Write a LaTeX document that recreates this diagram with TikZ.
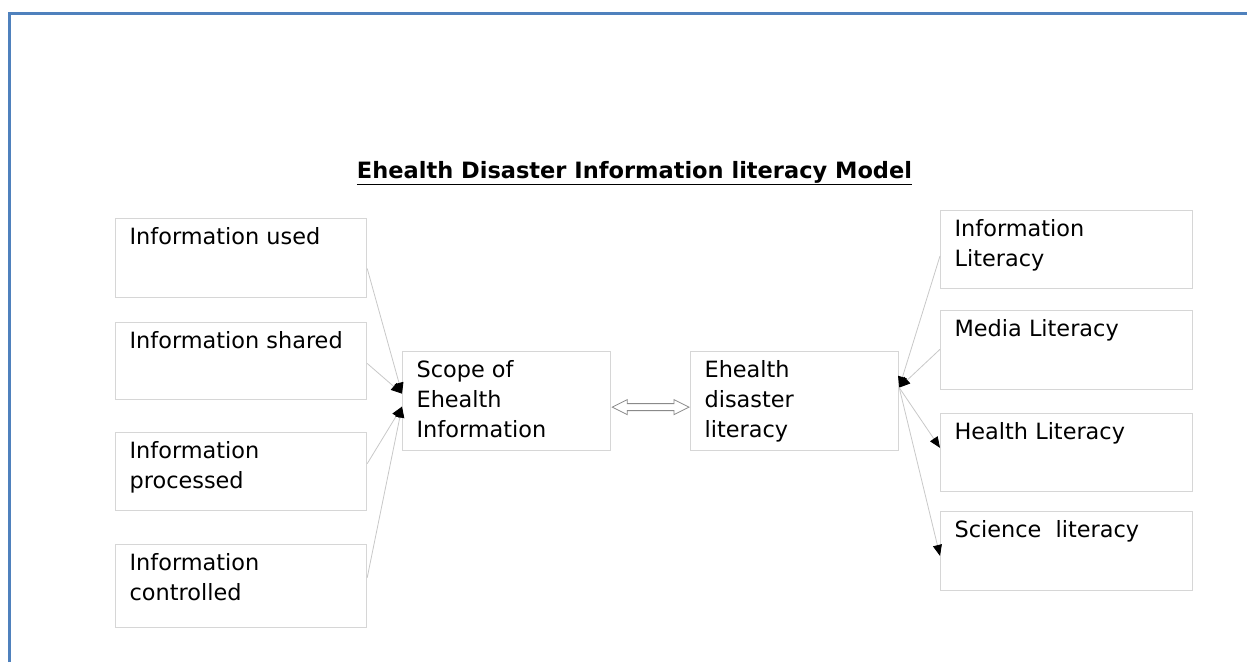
\documentclass[tikz,border=0pt]{standalone}
\usepackage{fontspec}
\setmainfont{DejaVu Sans}
\usetikzlibrary{arrows.meta,calc}
\definecolor{frameblue}{HTML}{4F81BD}
\definecolor{boxgray}{HTML}{D6D6D6}
\definecolor{linegray}{HTML}{C8C8C8}
\definecolor{arrowgray}{HTML}{8A8A8A}
\newcommand{\bxt}[3]{\parbox[c][#1pt][t]{#2pt}{\raggedright\vspace*{9pt}\rule{0pt}{16.7pt}#3}}
\begin{document}
\begin{tikzpicture}[x=1pt,y=-1pt,
  box/.style={draw=boxgray, line width=1.2pt, anchor=north west,
    inner xsep=14pt, inner ysep=0pt,
    font=\fontsize{22.4}{30}\selectfont},
  conn/.style={draw=linegray, line width=0.8pt,
    -{Triangle[length=11pt,width=9pt,color=black]}},
  dblarrow/.style={draw=arrowgray, fill=white, line width=0.8pt, line join=miter}]
\useasboundingbox (0,0) rectangle (1247,662);
\draw[frameblue, line width=3pt] (9.5,662) -- (9.5,13.5) -- (1247,13.5);

\node (title) at (634.5,178) [anchor=base, font=\bfseries\fontsize{22.5}{26}\selectfont]
  {\underline{Ehealth Disaster Information literacy Model}};

\node[box] (b1) at (115,218) {\bxt{79}{223}{Information used}};
\node[box] (b2) at (115,322) {\bxt{77}{223}{Information shared}};
\node[box] (b3) at (115,432) {\bxt{78}{223}{Information\\processed}};
\node[box] (b4) at (115,544) {\bxt{83}{223}{Information\\controlled}};

\node[box] (sc) at (402,351) {\bxt{99}{180}{Scope of\\Ehealth\\Information}};
\node[box] (eh) at (690,351) {\bxt{99}{180}{Ehealth\\disaster\\literacy}};

\node[box] (r1) at (940,210) {\bxt{78}{224}{Information\\Literacy}};
\node[box] (r2) at (940,310) {\bxt{79}{224}{Media Literacy}};
\node[box] (r3) at (940,413) {\bxt{78}{224}{Health Literacy}};
\node[box] (r4) at (940,511) {\bxt{79}{224}{Science\ \ literacy}};

\draw[conn] ($(b1.north east)!0.63!(b1.south east)$) -- ($(sc.west)+(0,-7.5)$);
\draw[conn] ($(b2.north east)!0.53!(b2.south east)$) -- ($(sc.west)+(0,-7.5)$);
\draw[conn] ($(b3.north east)!0.40!(b3.south east)$) -- ($(sc.west)+(0,5.5)$);
\draw[conn] ($(b4.north east)!0.40!(b4.south east)$) -- ($(sc.west)+(0,5.5)$);

\draw[conn] ($(r1.north west)!0.58!(r1.south west)$) -- ($(eh.east)+(0,-13.5)$);
\draw[conn] ($(r2.north west)!0.49!(r2.south west)$) -- ($(eh.east)+(0,-13.5)$);
\draw[conn] ($(eh.east)+(0,-13.5)$) -- ($(r3.north west)!0.44!(r3.south west)$);
\draw[conn] ($(eh.east)+(0,-13.5)$) -- ($(r4.north west)!0.56!(r4.south west)$);

\coordinate (da) at ($(sc.east)+(1,6)$);
\coordinate (db) at ($(eh.west)+(-1,6)$);
\draw[dblarrow] (da) -- ($(da)+(15,-7.5)$) -- ($(da)+(15,-3.5)$) -- ($(db)+(-15,-3.5)$)
  -- ($(db)+(-15,-7.5)$) -- (db) -- ($(db)+(-15,7.5)$) -- ($(db)+(-15,3.5)$)
  -- ($(da)+(15,3.5)$) -- ($(da)+(15,7.5)$) -- cycle;
\end{tikzpicture}
\end{document}
